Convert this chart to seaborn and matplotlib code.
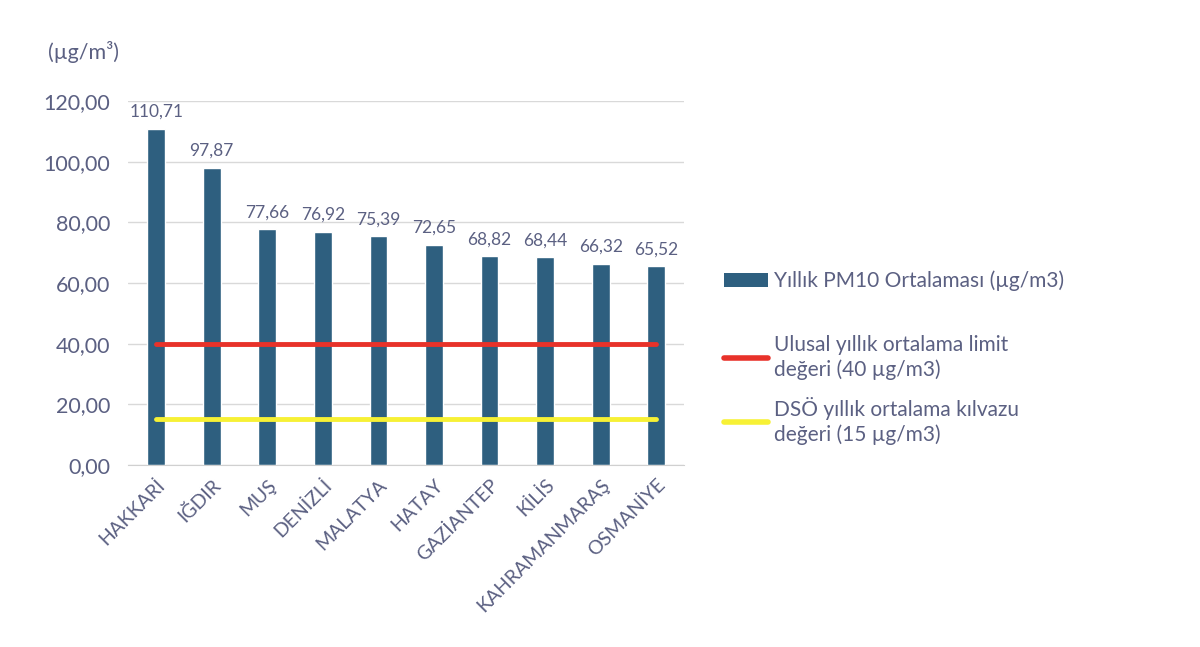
import pandas as pd
import seaborn as sns
import matplotlib.pyplot as plt
from matplotlib.lines import Line2D
from matplotlib.patches import Patch

# Chart data
cities = ["HAKKARİ", "IĞDIR", "MUŞ", "DENİZLİ", "MALATYA", "HATAY",
          "GAZİANTEP", "KİLİS", "KAHRAMANMARAŞ", "OSMANİYE"]
pm10 = [110.71, 97.87, 77.66, 76.92, 75.39, 72.65, 68.82, 68.44, 66.32, 65.52]
national_limit = [40] * len(cities)
who_guideline = [15] * len(cities)
y_ticks = [0, 20, 40, 60, 80, 100, 120]

df = pd.DataFrame({"city": cities, "pm10": pm10,
                   "limit": national_limit, "who": who_guideline})

sns.set_style("white")
plt.rcParams['font.family'] = ['Lato', 'DejaVu Sans']

text_color = '#5b6082'
bar_color = '#2e5f7f'
red = '#e8322a'
yellow = '#f7f135'

fig = plt.figure(figsize=(12, 6.47), dpi=100)
ax = fig.add_axes([0.107, 0.2813, 0.463, 0.5626])

sns.barplot(data=df, x="city", y="pm10", color=bar_color, width=0.32,
            saturation=1, ax=ax)
ax.plot(range(len(cities)), df["limit"], color=red, lw=3.5, solid_capstyle='round')
ax.plot(range(len(cities)), df["who"], color=yellow, lw=3.5, solid_capstyle='round')

# Value labels above bars
for i, v in enumerate(pm10):
    ax.text(i, v + 3, f"{v:.2f}".replace('.', ','), ha='center', va='bottom',
            fontsize=12.5, color=text_color)

ax.set_ylim(0, 120)
ax.set_xlim(-0.5, len(cities) - 0.5)
ax.set_yticks(y_ticks)
ax.set_yticklabels([f"{t:.2f}".replace('.', ',') for t in y_ticks],
                   fontsize=15.5, color=text_color)
ax.set_xticks(range(len(cities)))
ax.set_xticklabels(cities, rotation=45, ha='right', rotation_mode='anchor',
                   fontsize=14, color=text_color)
ax.tick_params(axis='y', length=0, pad=13)
ax.tick_params(axis='x', length=0, pad=8)
ax.set_xlabel('')
ax.set_ylabel('')

# Grid lines and spines
ax.grid(axis='y', color='#d9d9d9', lw=1)
ax.set_axisbelow(True)
for side in ['top', 'right', 'left']:
    ax.spines[side].set_visible(False)
ax.spines['bottom'].set_color('#d0d0d0')

# Unit label
fig.text(0.04, 0.92, "(µg/m³)", fontsize=15.5, color=text_color, ha='left', va='center')

# Legends: bar entry and the two limit lines
leg1 = fig.legend([Patch(facecolor=bar_color, edgecolor='none')],
                  ["Yıllık PM10 Ortalaması (µg/m3)"],
                  loc='center left', bbox_to_anchor=(0.588, 0.5657),
                  frameon=False, fontsize=15, labelcolor=text_color,
                  handlelength=2.1, handleheight=0.6, handletextpad=0.3)
leg2 = fig.legend([Line2D([0], [0], color=red, lw=4, solid_capstyle='round'),
                   Line2D([0], [0], color=yellow, lw=4, solid_capstyle='round')],
                  ["Ulusal yıllık ortalama limit\ndeğeri (40 µg/m3)",
                   "DSÖ yıllık ortalama kılvazu\ndeğeri (15 µg/m3)"],
                  loc='center left', bbox_to_anchor=(0.588, 0.3972),
                  frameon=False, fontsize=15, labelcolor=text_color,
                  handlelength=2.1, handletextpad=0.3, labelspacing=0.8)
for t in leg2.get_texts():
    t.set_linespacing(1.3)

plt.savefig("out.png", dpi=100)
